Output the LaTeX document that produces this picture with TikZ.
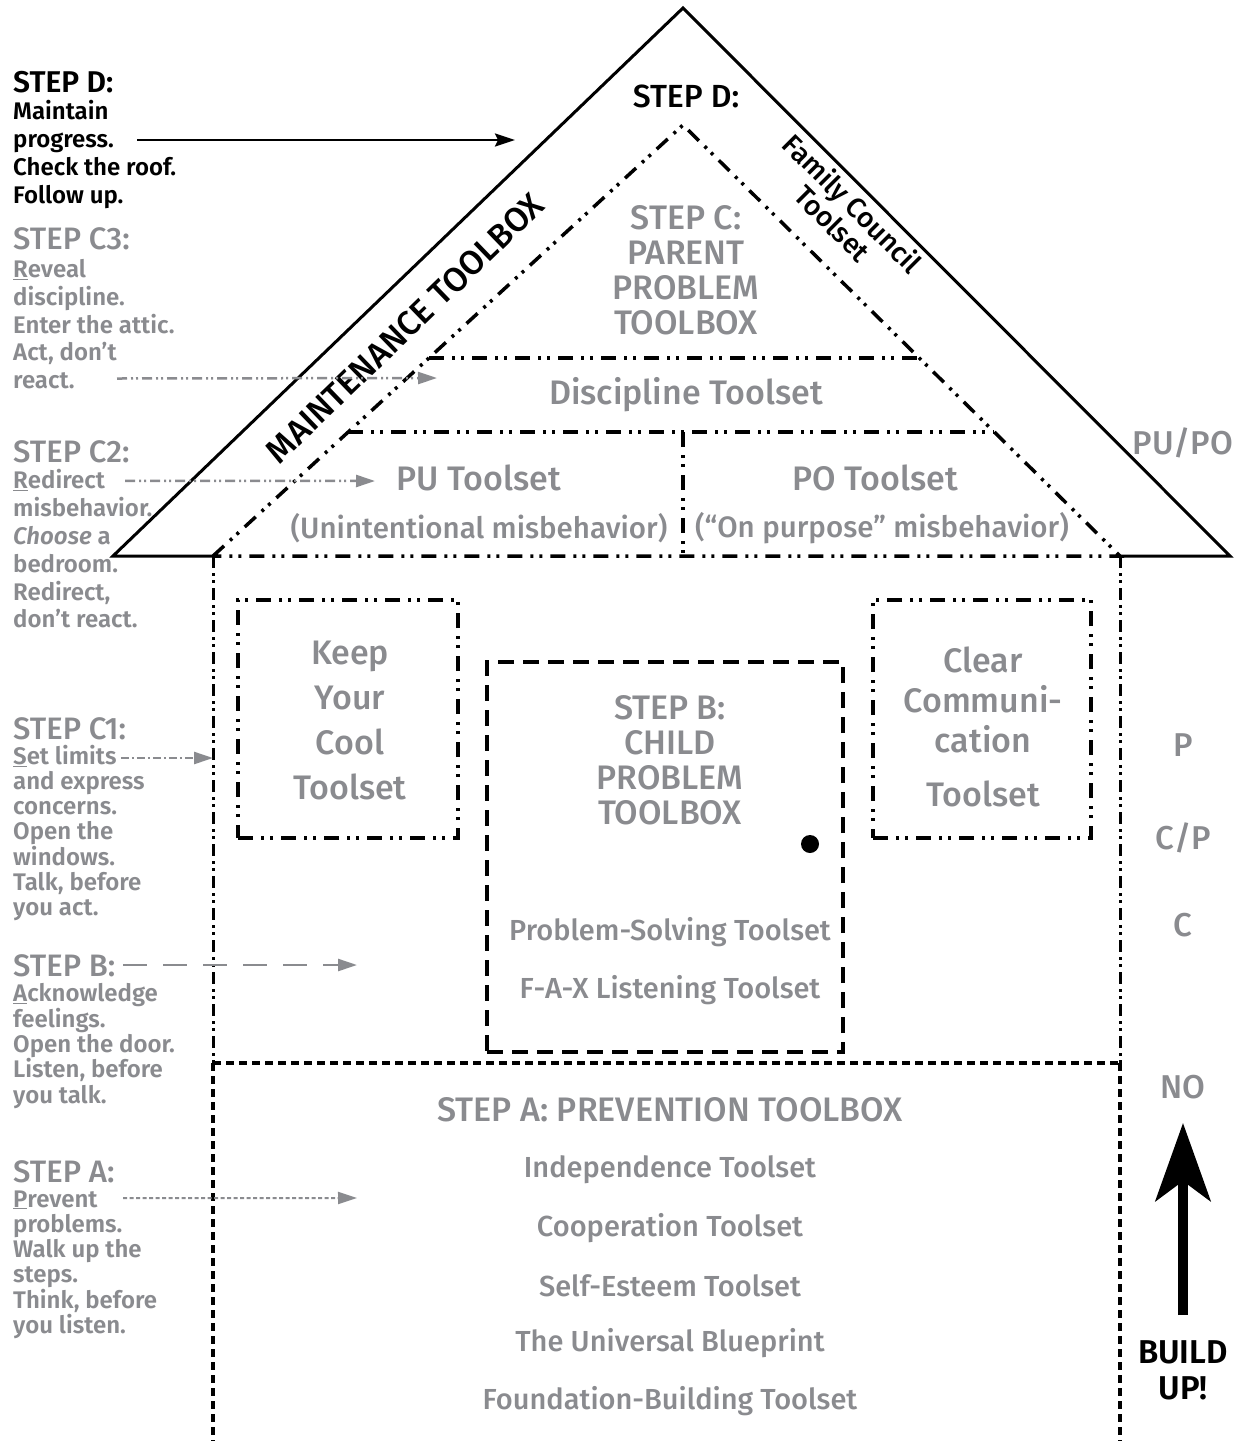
\documentclass[tikz,border=0pt]{standalone}
\usepackage{fontspec}
\setmainfont{Fira Sans Medium}[BoldFont={Fira Sans SemiBold}, ItalicFont={Fira Sans Medium Italic}, BoldItalicFont={Fira Sans SemiBold Italic}]
\usetikzlibrary{arrows.meta, positioning}
\definecolor{stepgray}{RGB}{138,139,143}

\tikzset{
  roofline/.style={line width=3pt, line join=miter},
  ddotline/.style={line width=3.5pt, dash pattern=on 15pt off 8pt on 3pt off 6pt on 3pt off 8pt},
  wallline/.style={line width=3pt, dash pattern=on 12pt off 5pt on 3pt off 4pt on 3pt off 5pt},
  doorline/.style={line width=3.5pt, dash pattern=on 16pt off 9pt},
  floorline/.style={line width=3.5pt, dash pattern=on 8pt off 5pt},
  bigtxt/.style={text=stepgray, inner sep=0pt, align=center, font=\fontsize{34}{35}\selectfont},
  toolset/.style={text=stepgray, inner sep=0pt, font=\fontsize{29}{30}\selectfont},
  sidetxt/.style={text=stepgray, inner sep=0pt, font=\fontsize{33}{35}\selectfont},
  lefthead/.style={anchor=base west, inner sep=0pt, font=\fontsize{31}{32}\selectfont},
  leftbody/.style={anchor=base west, inner sep=0pt, font=\bfseries\fontsize{24}{28}\selectfont},
  hint/.style={draw=stepgray, line width=2.5pt, -{Triangle[length=19pt,width=12pt]}},
}

\begin{document}
\begin{tikzpicture}[x=1pt, y=-1pt]
  \useasboundingbox (0,0) rectangle (1245,1441);

  % Roof
  \draw[roofline] (213,556) -- (113,556) -- (683,8) -- (1230,556) -- (1120,556);
  \node[font=\fontsize{32}{34}\selectfont, inner sep=0pt] (dtitle) at (686,96) {STEP D:};
  \node[rotate=44, font=\fontsize{34}{36}\selectfont, inner sep=0pt] (maint) at (405,328) {MAINTENANCE TOOLBOX};
  \node[rotate=-45, align=center, font=\fontsize{28}{28}\selectfont, inner sep=0pt] (family) at (843,213) {Family Council\\Toolset};

  % Attic (parent problem toolbox)
  \draw[ddotline] (213,556) -- (683,125) -- (1120,556) -- cycle;
  \draw[ddotline] (429,358) -- (917,358);
  \draw[ddotline] (348,432) -- (994,432);
  \draw[ddotline] (683,432) -- (683,556);
  \node[bigtxt] (parent) at (686,270) {STEP C:\\PARENT\\PROBLEM\\TOOLBOX};
  \node[bigtxt] (discip) at (686,395) {Discipline Toolset};
  \node[bigtxt] (pu) at (479,478) {PU Toolset};
  \node[toolset, font=\fontsize{29.5}{30}\selectfont] (punote) at (479,528) {(Unintentional misbehavior)};
  \node[bigtxt] (po) at (875,478) {PO Toolset};
  \node[toolset, font=\fontsize{29.5}{30}\selectfont] (ponote) at (882,528) {(“On purpose” misbehavior)};

  % Walls and floor
  \draw[wallline] (213,556) -- (213,1063);
  \draw[wallline] (1120,556) -- (1120,1063);
  \draw[floorline] (213,1063) -- (1120,1063);
  \draw[floorline] (213,1063) -- (213,1441);
  \draw[floorline] (1120,1063) -- (1120,1441);

  % Windows and door
  \node[draw, ddotline, minimum width=220pt, minimum height=238pt, inner sep=0pt] (coolbox) at (348,719) {};
  \node[bigtxt, font=\fontsize{34}{45}\selectfont] (cool) at (350,720) {Keep\\Your\\Cool\\Toolset};
  \node[draw, ddotline, minimum width=218pt, minimum height=238pt, inner sep=0pt] (clearbox) at (982,719) {};
  \node[bigtxt, font=\fontsize{34}{40}\selectfont] (clear) at (983,727) {Clear\\Communi-\\cation\\[14pt]Toolset};
  \node[draw, doorline, minimum width=356pt, minimum height=390pt, inner sep=0pt] (door) at (665,857) {};
  \node[circle, fill, inner sep=0pt, minimum size=18pt] (knob) at (810,844) {};
  \node[bigtxt] (child) at (670,760) {STEP B:\\CHILD\\PROBLEM\\TOOLBOX};
  \node[toolset] (solve) at (670,932) {Problem-Solving Toolset};
  \node[toolset] (fax) at (670,990) {F-A-X Listening Toolset};

  % Foundation
  \node[bigtxt] (prevent) at (670,1110) {STEP A: PREVENTION TOOLBOX};
  \foreach \txt [count=\i] in {Independence Toolset, Cooperation Toolset, Self-Esteem Toolset, The Universal Blueprint, Foundation-Building Toolset}
    \node[toolset] (found\i) at (670,{1112.25+57.75*\i}) {\txt};

  % Right column
  \node[sidetxt] (pupo) at (1183,443) {PU/PO};
  \node[sidetxt] (lvlp) at (1183,745) {P};
  \node[sidetxt] (lvlcp) at (1183,838) {C/P};
  \node[sidetxt] (lvlc) at (1183,925) {C};
  \node[sidetxt] (lvlno) at (1183,1087) {NO};
  \node[align=center, inner sep=0pt, font=\bfseries\fontsize{33}{36}\selectfont] (build) at (1183,1370) {BUILD\\UP!};
  \coordinate (buildtip) at (1183,1123);
  \draw[line width=10pt, -{Stealth[length=78pt,width=55pt,inset=20pt]}] (1183,1315) -- (buildtip);

  % Left column: step D
  \node[lefthead, font=\bfseries\fontsize{30}{32}\selectfont] (dhead) at (13,92) {STEP D:};
  \foreach \txt [count=\i] in {Maintain, progress., Check the roof., Follow up.}
    \node[leftbody] (dline\i) at (13,{91+28*\i}) {\txt};
  \coordinate (dtip) at (515,140);
  \draw[line width=2.5pt, -{Stealth[length=20pt,width=13pt,inset=3pt]}] ([shift={(124,-7)}]dline2.base west) -- (dtip);

  % step C3
  \node[lefthead, text=stepgray] (c3head) at (13,249) {STEP C3:};
  \foreach \txt [count=\i] in {\underline{R}eveal, discipline., Enter the attic., {Act, don’t}, react.}
    \node[leftbody, text=stepgray] (c3line\i) at (13,{250+27.7*\i}) {\txt};
  \coordinate (c3tip) at (437,378);
  \draw[hint, dash pattern=on 10pt off 4pt on 2pt off 3pt on 2pt off 4pt] ([shift={(104,-10)}]c3line5.base west) -- (c3tip);

  % step C2
  \node[lefthead, text=stepgray] (c2head) at (13,462) {STEP C2:};
  \foreach \txt [count=\i] in {\underline{R}edirect, misbehavior., \textit{Choose} a, bedroom., {Redirect,}, don’t react.}
    \node[leftbody, text=stepgray] (c2line\i) at (13,{461+27.8*\i}) {\txt};
  \coordinate (c2tip) at (375,481);
  \draw[hint, dash pattern=on 10pt off 4pt on 2pt off 3pt on 2pt off 4pt] ([shift={(112,-8)}]c2line1.base west) -- (c2tip);

  % step C1
  \node[lefthead, text=stepgray] (c1head) at (13,739) {STEP C1:};
  \foreach \txt [count=\i] in {\underline{S}et limits, and express, concerns., Open the, windows., {Talk, before}, you act.}
    \node[leftbody, text=stepgray] (c1line\i) at (13,{738.7+25.3*\i}) {\txt};
  \coordinate (c1tip) at (213,758);
  \draw[hint, dash pattern=on 8pt off 3pt on 2pt off 3pt] ([shift={(4,-6)}]c1line1.base east) -- (c1tip);

  % step B
  \node[lefthead, text=stepgray] (bhead) at (13,976) {STEP B:};
  \foreach \txt [count=\i] in {\underline{A}cknowledge, feelings., Open the door., {Listen, before}, you talk.}
    \node[leftbody, text=stepgray] (bline\i) at (13,{976.5+25.3*\i}) {\txt};
  \coordinate (btip) at (357,965);
  \draw[hint, dash pattern=on 24pt off 16pt] ([shift={(8,-11)}]bhead.base east) -- (btip);

  % step A
  \node[lefthead, text=stepgray] (ahead) at (13,1182) {STEP A:};
  \foreach \txt [count=\i] in {\underline{P}revent, problems., Walk up the, steps., {Think, before}, you listen.}
    \node[leftbody, text=stepgray] (aline\i) at (13,{1182+25.2*\i}) {\txt};
  \coordinate (atip) at (357,1198);
  \draw[hint, line width=2pt, dash pattern=on 4pt off 2.5pt] ([shift={(110,-9)}]aline1.base west) -- (atip);
\end{tikzpicture}
\end{document}
